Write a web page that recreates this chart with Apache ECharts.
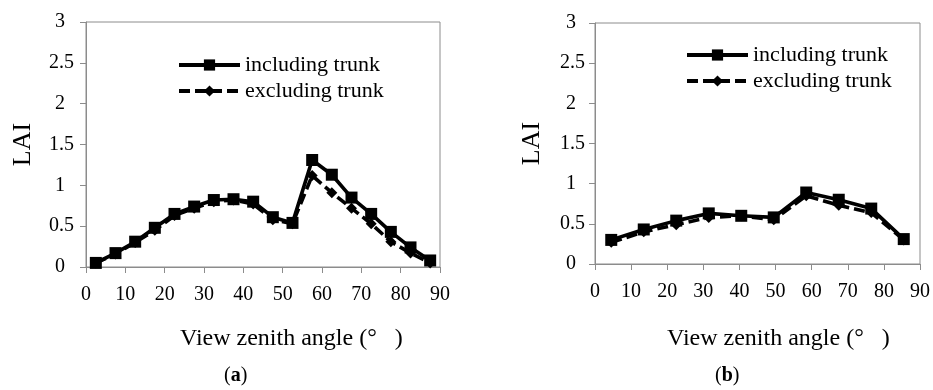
<!DOCTYPE html>
<html>
<head>
<meta charset="utf-8">
<script src="https://cdn.jsdelivr.net/npm/echarts@6/dist/echarts.min.js"></script>
<style>
html, body { margin: 0; padding: 0; background: #fff; }
#chart { width: 933px; height: 390px; }
</style>
</head>
<body>
<div id="chart"></div>
<script>
// (a) view zenith angles and LAI
var anglesA = [2.5, 7.5, 12.5, 17.5, 22.5, 27.5, 32.5, 37.5, 42.5, 47.5, 52.5, 57.5, 62.5, 67.5, 72.5, 77.5, 82.5, 87.5];
var inclA = [0.05, 0.17, 0.31, 0.48, 0.65, 0.74, 0.82, 0.83, 0.80, 0.61, 0.54, 1.31, 1.13, 0.85, 0.65, 0.43, 0.24, 0.08];
var exclA = [0.05, 0.16, 0.30, 0.45, 0.63, 0.72, 0.80, 0.82, 0.77, 0.58, 0.53, 1.12, 0.91, 0.72, 0.53, 0.31, 0.17, 0.05];
// (b)
var anglesB = [4.5, 13.5, 22.5, 31.5, 40.5, 49.5, 58.5, 67.5, 76.5, 85.5];
var inclB = [0.30, 0.43, 0.54, 0.63, 0.60, 0.58, 0.89, 0.80, 0.69, 0.31];
var exclB = [0.27, 0.40, 0.49, 0.58, 0.60, 0.55, 0.85, 0.73, 0.64, 0.30];
var xTicks = [0, 10, 20, 30, 40, 50, 60, 70, 80, 90];
var yTicks = [0, 0.5, 1, 1.5, 2, 2.5, 3];

var serif = 'Liberation Serif';
var gray = '#8c8c8c';

function pairs(xs, ys) {
    var out = [];
    for (var i = 0; i < xs.length; i++) out.push([xs[i], ys[i]]);
    return out;
}

function xAxisFor(idx) {
    return {
        gridIndex: idx, type: 'value',
        min: xTicks[0], max: xTicks[xTicks.length - 1], interval: 10,
        axisLine: { lineStyle: { color: gray, width: 1 } },
        axisTick: { show: true, length: 6, lineStyle: { color: gray } },
        axisLabel: { margin: 18, color: '#000', fontFamily: serif, fontSize: 20 },
        splitLine: { show: false }
    };
}

function yAxisFor(idx, gap, margin) {
    return {
        gridIndex: idx, type: 'value',
        min: yTicks[0], max: yTicks[yTicks.length - 1], interval: 0.5,
        name: 'LAI', nameLocation: 'middle', nameGap: gap,
        nameTextStyle: { fontFamily: serif, fontSize: 26, color: '#000' },
        axisLine: { show: true, lineStyle: { color: gray, width: 1 } },
        axisTick: { show: true, length: 6, lineStyle: { color: gray } },
        axisLabel: {
            margin: margin, color: '#000', fontFamily: serif, fontSize: 20,
            formatter: function (v) { return Number.isInteger(v) ? '{i|' + v + '}' : '' + v; },
            rich: { i: { fontFamily: serif, fontSize: 20, color: '#000', padding: [0, 9, 0, 0] } }
        },
        splitLine: { show: false }
    };
}

function lineSeries(name, data, idx, dashed) {
    return {
        name: name, type: 'line', xAxisIndex: idx, yAxisIndex: idx,
        data: data,
        z: dashed ? 2 : 3,
        symbol: dashed ? 'diamond' : 'rect',
        symbolSize: dashed ? 11 : 12,
        showSymbol: true,
        itemStyle: { color: '#000' },
        lineStyle: { color: '#000', width: 3.6, type: dashed ? [11, 5] : 'solid' },
        emphasis: { disabled: true },
        animation: false
    };
}

function legendFor(left, top) {
    return {
        left: left, top: top, orient: 'vertical', itemGap: 4,
        itemWidth: 61, itemHeight: 14,
        lineStyle: { width: 4 },
        textStyle: { fontFamily: serif, fontSize: 22, color: '#000' },
        data: ['including trunk', 'excluding trunk'],
        selectedMode: false
    };
}

function caption(x, y, letter) {
    return {
        type: 'text', left: x, top: y,
        style: {
            text: '({b|' + letter + '})', fontFamily: serif, fontSize: 20, fill: '#000',
            rich: { b: { fontFamily: serif, fontSize: 20, fontWeight: 'bold', fill: '#000' } }
        }
    };
}

function xTitle(x, y) {
    return {
        type: 'text', left: x, top: y,
        style: { text: 'View zenith angle (\u00b0   )', fontFamily: serif, fontSize: 24, fill: '#000' }
    };
}

var myChart = echarts.init(document.getElementById('chart'), null, { renderer: 'canvas' });
var option = {
    backgroundColor: '#fff',
    animation: false,
    grid: [
        { left: 86, right: 493, top: 22, bottom: 123, show: true, borderColor: gray, borderWidth: 1, backgroundColor: 'transparent' },
        { left: 595, right: 11, top: 23, bottom: 126, show: true, borderColor: gray, borderWidth: 1, backgroundColor: 'transparent' }
    ],
    legend: [legendFor(172, 49), legendFor(680, 39)],
    xAxis: [xAxisFor(0), xAxisFor(1)],
    yAxis: [yAxisFor(0, 50, 12), yAxisFor(1, 50, 10)],
    series: [
        lineSeries('including trunk', pairs(anglesA, inclA), 0, false),
        lineSeries('excluding trunk', pairs(anglesA, exclA), 0, true),
        lineSeries('including trunk', pairs(anglesB, inclB), 1, false),
        lineSeries('excluding trunk', pairs(anglesB, exclB), 1, true)
    ],
    graphic: [
        xTitle(180, 327), xTitle(667, 327),
        caption(224, 366, 'a'), caption(715, 366, 'b')
    ]
};
myChart.setOption(option);
</script>
</body>
</html>
